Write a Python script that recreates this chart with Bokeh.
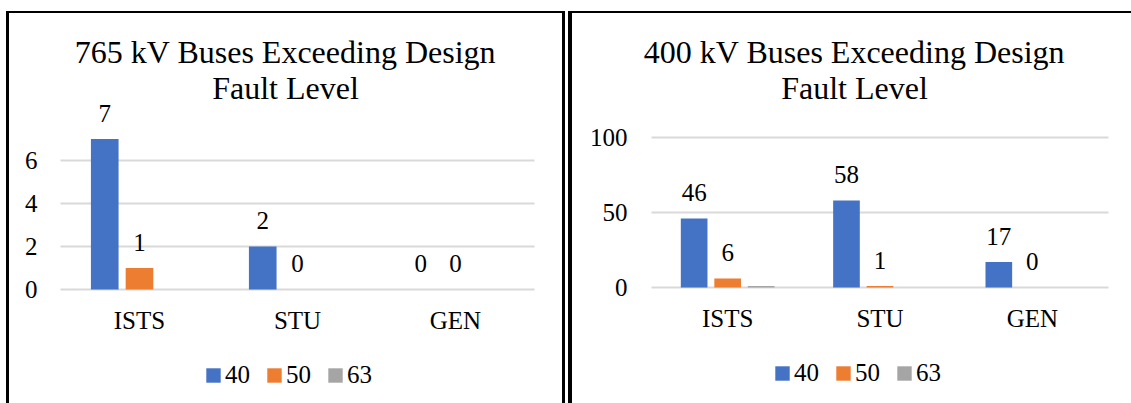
from bokeh.plotting import figure
from bokeh.models import (Range1d, FixedTicker, Label, Legend, LegendItem,
                          Spacer, ColumnDataSource)
from bokeh.layouts import row, column
from bokeh.core.properties import value
from bokeh.embed import file_html
from bokeh.resources import INLINE

# ---------------- data ----------------
categories = ["ISTS", "STU", "GEN"]
series_names = ["40", "50", "63"]

kv765_40 = [7, 2, 0]
kv765_50 = [1, 0, 0]
kv765_63 = [0, 0, 0]

kv400_40 = [46, 58, 17]
kv400_50 = [6, 1, 0]
kv400_63 = [1, 0, 0]

kv765_ticks = [0, 2, 4, 6]
kv400_ticks = [0, 50, 100]

title_765 = ["765 kV Buses Exceeding Design", "Fault Level"]
title_400 = ["400 kV Buses Exceeding Design", "Fault Level"]

# ---------------- style ----------------
COLORS = ["#4472C4", "#ED7D31", "#A5A5A5"]
FONT = "Liberation Serif"
GRID = "#d9d9d9"
LABELED = [True, True, False]
OFFSETS = [-0.22, 0.0, 0.22]
BAR_W = 0.175
CANVAS_TOP = 13
CANVAS_BOTTOM = 403


def make_panel(series, ticks, title_lines, width, b_left, b_right,
               zero_page_y, px_per_unit, band_px, pad_left_px, pad_right_px,
               title_page_cx, plot_page_left, legend_loc):
    n = len(categories)
    height = CANVAS_BOTTOM - CANVAS_TOP
    y_start = -(CANVAS_BOTTOM - zero_page_y) / px_per_unit
    y_end = (zero_page_y - CANVAS_TOP) / px_per_unit
    x_start = -pad_left_px / band_px
    x_end = n + pad_right_px / band_px
    p = figure(x_range=Range1d(x_start, x_end), y_range=Range1d(y_start, y_end),
               width=width, height=height, output_backend="svg",
               toolbar_location=None, min_border_left=b_left,
               min_border_right=b_right, min_border_top=0,
               min_border_bottom=0)
    p.outline_line_color = None
    p.background_fill_color = "white"
    p.border_fill_color = "white"
    p.xgrid.visible = False
    p.ygrid.visible = False

    # horizontal gridlines spanning the category area only
    p.segment(x0=[0] * len(ticks), x1=[n] * len(ticks), y0=ticks, y1=ticks,
              line_color=GRID, line_width=2)

    ya = p.yaxis[0]
    ya.ticker = FixedTicker(ticks=ticks)
    ya.axis_line_color = None
    ya.major_tick_line_color = None
    ya.minor_tick_line_color = None
    ya.major_tick_out = 0
    ya.major_tick_in = 0
    ya.major_label_standoff = 0
    ya.major_label_text_font = FONT
    ya.major_label_text_font_size = "25px"
    ya.major_label_text_color = "black"

    centers = [j + 0.5 for j in range(n)]
    xa = p.xaxis[0]
    xa.fixed_location = 0
    xa.ticker = FixedTicker(ticks=centers)
    xa.major_label_overrides = {c: lab for c, lab in zip(centers, categories)}
    xa.axis_line_color = None
    xa.major_tick_line_color = None
    xa.minor_tick_line_color = None
    xa.major_tick_out = 0
    xa.major_tick_in = 0
    xa.major_label_standoff = 17
    xa.major_label_text_font = FONT
    xa.major_label_text_font_size = "25px"
    xa.major_label_text_color = "black"

    items = []
    for i, (name, vals) in enumerate(zip(series_names, series)):
        xs = [c + OFFSETS[i] for c in centers]
        src = ColumnDataSource(dict(
            x=xs, top=vals,
            ly=[v + 26 / px_per_unit for v in vals],
            lt=[str(v) for v in vals]))
        r = p.vbar(x="x", top="top", width=BAR_W, source=src,
                   fill_color=COLORS[i], line_color=None)
        items.append(LegendItem(label=name, renderers=[r]))
        if LABELED[i]:
            p.text(x="x", y="ly", text="lt", source=src, text_align="center",
                   text_baseline="middle", text_font=value(FONT),
                   text_font_size="25px", text_color="black")

    # two-line title, cap centres at page y 51 and 87.5
    tx = (title_page_cx - plot_page_left) / band_px
    for line, cy in zip(title_lines, [51, 87.5]):
        yv = (zero_page_y - cy) / px_per_unit
        p.add_layout(Label(x=tx, y=yv, text=line, text_align="center",
                           text_baseline="middle", text_font=FONT,
                           text_font_size="32px", text_color="black"))

    leg = Legend(items=items, orientation="horizontal", location=legend_loc,
                 glyph_width=18, glyph_height=18, label_standoff=3,
                 spacing=15, padding=0, margin=0, border_line_color=None,
                 background_fill_alpha=0, label_text_font=FONT,
                 label_text_font_size="25px", label_text_color="black")
    p.add_layout(leg, "center")
    return p


# left panel: canvas x 9..562 ; categories x 60..534, zero at page y 289
p1 = make_panel([kv765_40, kv765_50, kv765_63], kv765_ticks, title_765,
                width=553, b_left=28, b_right=5, zero_page_y=289,
                px_per_unit=21.5, band_px=158.0, pad_left_px=23,
                pad_right_px=23, title_page_cx=285, plot_page_left=60,
                legend_loc=(167, 14))

# right panel: canvas x 572..1131 ; categories x 651..1108, zero at page y 287
p2 = make_panel([kv400_40, kv400_50, kv400_63], kv400_ticks, title_400,
                width=559, b_left=55, b_right=0, zero_page_y=287,
                px_per_unit=1.5, band_px=457 / 3.0, pad_left_px=24,
                pad_right_px=23, title_page_cx=854, plot_page_left=651,
                legend_loc=(146, 16))


def side_border(w):
    return column(Spacer(width=w, height=11),
                  Spacer(width=w, height=392, styles={"background-color": "black"}))


def top_border(w, fig):
    return column(Spacer(width=w, height=11),
                  Spacer(width=w, height=2, styles={"background-color": "black"}),
                  fig)


layout = row(Spacer(width=6, height=403), side_border(3), top_border(553, p1),
             side_border(3), Spacer(width=3, height=403), side_border(4),
             top_border(559, p2))

open("out.html", "w").write(file_html(layout, INLINE))
